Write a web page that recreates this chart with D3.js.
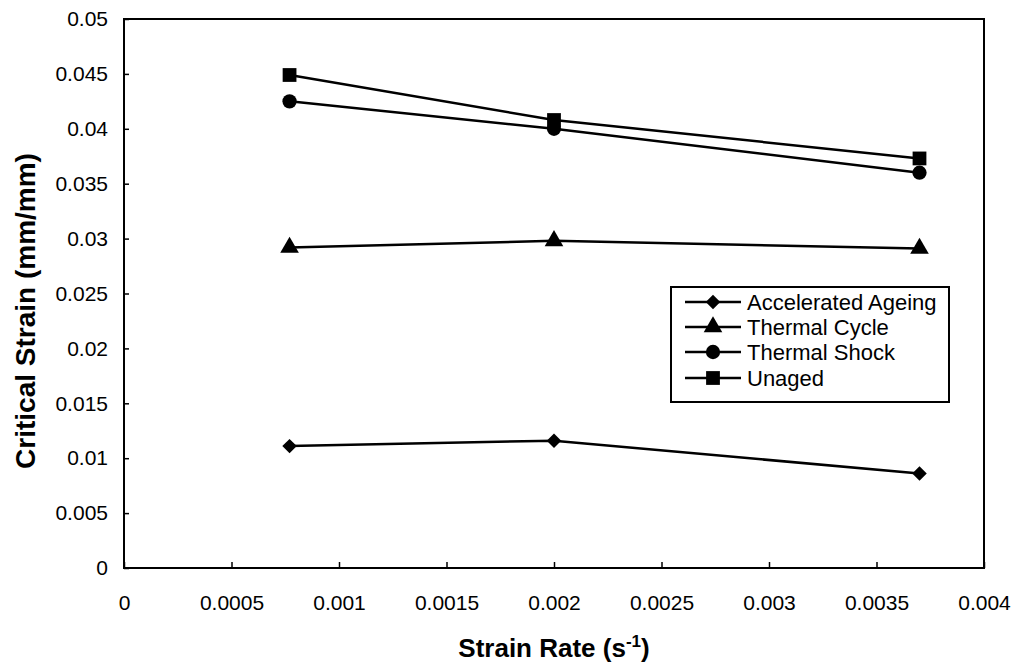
<!DOCTYPE html>
<html><head><meta charset="utf-8">
<script src="https://cdn.jsdelivr.net/npm/d3@7"></script>
<style>body{margin:0;background:#fff}svg{display:block}text{font-family:"Liberation Sans",Arial,sans-serif;fill:#000}</style>
</head><body><svg id="c" width="1018" height="666"></svg>
<script>
const strainRates = [0.00077, 0.002, 0.0037];
const seriesNames = ["Accelerated Ageing", "Thermal Cycle", "Thermal Shock", "Unaged"];
const acceleratedAgeing = [0.0111, 0.0116, 0.0086];
const thermalCycle = [0.0292, 0.0298, 0.0291];
const thermalShock = [0.0425, 0.0400, 0.0360];
const unaged = [0.0449, 0.0408, 0.0373];
const xTicks = [0, 0.0005, 0.001, 0.0015, 0.002, 0.0025, 0.003, 0.0035, 0.004];
const yTicks = [0, 0.005, 0.01, 0.015, 0.02, 0.025, 0.03, 0.035, 0.04, 0.045, 0.05];
const markers = [d3.symbolSquare, d3.symbolTriangle, d3.symbolCircle, d3.symbolSquare];
const markerRot = [45, 0, 0, 0];
const markerSizes = [105, 150, 160, 190];
const seriesValues = [acceleratedAgeing, thermalCycle, thermalShock, unaged];

const svg = d3.select("#c");
const L = 124, R = 984, T = 19, B = 568;
const x = d3.scaleLinear().domain([0, 0.004]).range([L, R]);
const y = d3.scaleLinear().domain([0, 0.05]).range([B, T]);

svg.append("rect").attr("x", L).attr("y", T).attr("width", R - L).attr("height", B - T)
  .attr("fill", "none").attr("stroke", "#000").attr("stroke-width", 2);

const xa = svg.append("g").attr("transform", `translate(0,${B})`)
  .call(d3.axisBottom(x).tickValues(xTicks).tickSize(-6).tickPadding(27).tickFormat(d => String(+d.toFixed(4))));
xa.select(".domain").remove();
xa.selectAll("line").attr("stroke", "#000").attr("stroke-width", 1.5);
xa.selectAll("text").attr("font-size", 21).attr("fill", "#000").attr("font-family", "Liberation Sans, Arial, sans-serif");

const ya = svg.append("g").attr("transform", `translate(${L},0)`)
  .call(d3.axisLeft(y).tickValues(yTicks).tickSize(-5).tickPadding(16).tickFormat(d => String(+d.toFixed(3))));
ya.select(".domain").remove();
ya.selectAll("line").attr("stroke", "#000").attr("stroke-width", 1.5);
ya.selectAll("text").attr("font-size", 21).attr("fill", "#000").attr("font-family", "Liberation Sans, Arial, sans-serif");

const line = d3.line().x((d, i) => x(strainRates[i])).y(d => y(d));
seriesValues.forEach((vals, s) => {
  svg.append("path").datum(vals).attr("d", line).attr("fill", "none").attr("stroke", "#000").attr("stroke-width", 2.5);
  svg.selectAll(null).data(vals).enter().append("path")
    .attr("d", d3.symbol().type(markers[s]).size(markerSizes[s]))
    .attr("transform", (d, i) => `translate(${x(strainRates[i])},${y(d)}) rotate(${markerRot[s]})`)
    .attr("fill", "#000");
});

const lg = svg.append("g");
lg.append("rect").attr("x", 671).attr("y", 287).attr("width", 278).attr("height", 115)
  .attr("fill", "#fff").attr("stroke", "#000").attr("stroke-width", 2);
const ly = [302, 327, 352, 378];
seriesNames.forEach((n, s) => {
  lg.append("line").attr("x1", 685).attr("x2", 741).attr("y1", ly[s]).attr("y2", ly[s]).attr("stroke", "#000").attr("stroke-width", 2.5);
  lg.append("path").attr("d", d3.symbol().type(markers[s]).size(markerSizes[s]))
    .attr("transform", `translate(713,${ly[s]}) rotate(${markerRot[s]})`).attr("fill", "#000");
  lg.append("text").attr("x", 747).attr("y", ly[s]).attr("dy", "0.36em").attr("font-size", 22).text(n);
});

const xt = svg.append("text").attr("x", 554).attr("y", 657).attr("text-anchor", "middle")
  .attr("font-size", 26).attr("font-weight", "bold");
xt.append("tspan").text("Strain Rate (s");
xt.append("tspan").attr("font-size", 17).attr("dy", -10).text("-1");
xt.append("tspan").attr("dy", 10).text(")");

svg.append("text").attr("transform", `translate(35,311) rotate(-90)`).attr("text-anchor", "middle")
  .attr("font-size", 28).attr("font-weight", "bold").text("Critical Strain (mm/mm)");
</script></body></html>
